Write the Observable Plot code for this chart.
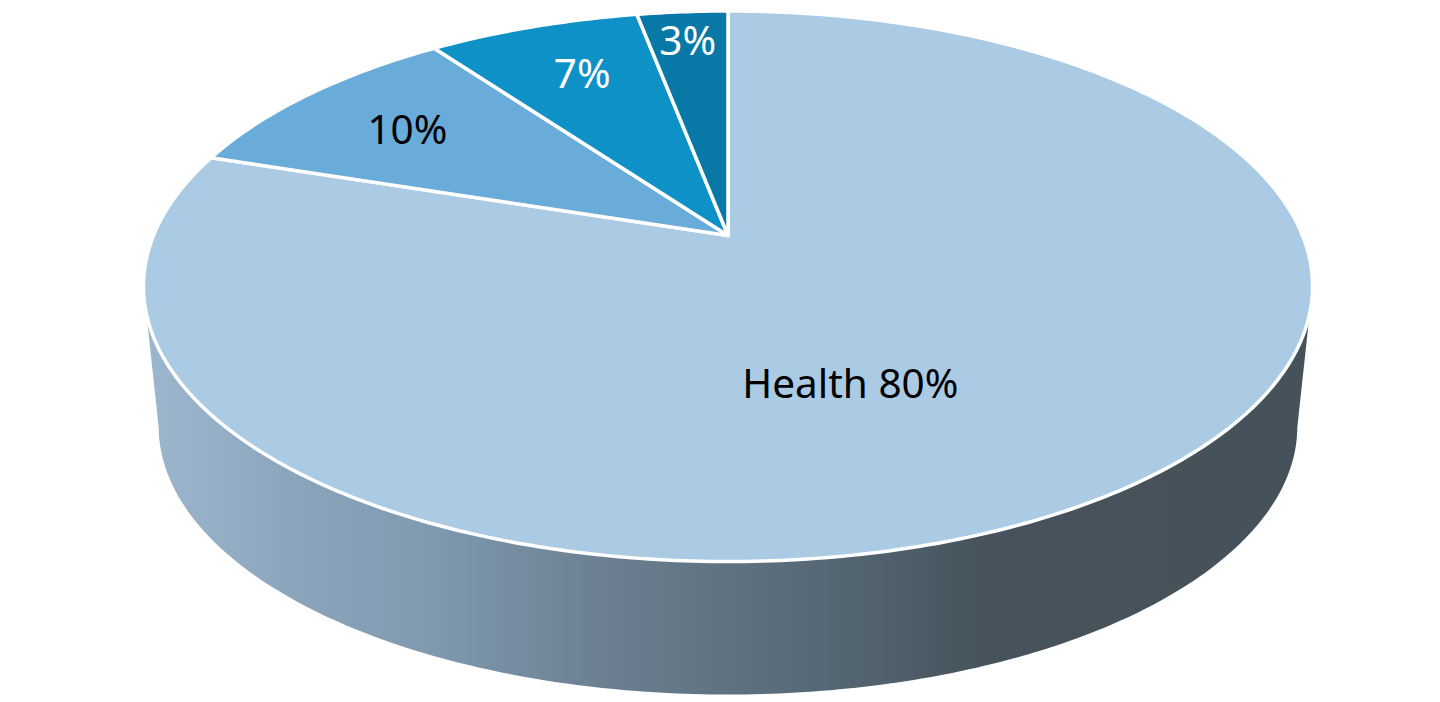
<!DOCTYPE html>
<html>
<head>
<meta charset="utf-8">
<script src="https://cdn.jsdelivr.net/npm/d3@7"></script>
<script src="https://cdn.jsdelivr.net/npm/@observablehq/plot@0.6"></script>
<style>
html,body{margin:0;padding:0;background:#fff;overflow:hidden}
svg{display:block}
</style>
</head>
<body>
<div id="chart"></div>
<script>
const categories = ["Health", "Segment B", "Segment C", "Segment D"];
const shares = [80, 10, 7, 3];
const labels = ["Health 80%", "10%", "7%", "3%"];
const sliceColors = ["#abcbe5", "#69acda", "#0e91c7", "#0878a6"];
const labelColors = ["#000000", "#000000", "#ffffff", "#ffffff"];
// Label anchors on the unit disc
const labelDiscX = [0.193, -0.602, -0.286, -0.081];
const labelDiscY = [-0.506, 0.428, 0.686, 0.849];
// Side wall shading, left to right
const wallStopOffsets = [0, 0.13, 0.245, 0.39, 0.565, 0.72, 1];
const wallStopColors = ["#9cb6ce", "#8aa5bb", "#7f99af", "#6c8092", "#586a78", "#46535c", "#45525a"];

// Perspective view of a tilted disc (output in SVG pixel space via Plot's x/y scales)
const view = {cx: 727.5, cy: 235, a: 574.5, b: 265.9, k: 0.1844};
const project = (X, Y, scale = 1, drop = 0) => {
  const d = 1 + view.k * Y;
  return {x: view.cx + scale * view.a * X / d, y: view.cy + drop - scale * view.b * Y / d};
};
const rim = (turn, scale, drop) => project(Math.sin(turn * 2 * Math.PI), Math.cos(turn * 2 * Math.PI), scale, drop);
const total = d3.sum(shares);
const arcStep = 0.002;

// Slices: walk the rim clockwise from twelve o'clock
let running = 0;
const slicePoints = categories.flatMap((category, i) => {
  const start = running / total;
  running += shares[i];
  const end = running / total;
  const n = Math.max(2, Math.ceil((end - start) / arcStep));
  const pts = [project(0, 0)];
  for (let j = 0; j <= n; ++j) pts.push(rim(start + (end - start) * j / n));
  pts.push(project(0, 0));
  return pts.map(p => ({...p, category}));
});

// Side wall: lower rim of the extruded disc joined to the upper rim
const wallScale = 0.974, wallDrop = 141.5;
const wallPoints = [];
for (let t = 0.28; t <= 0.72 + 1e-9; t += arcStep) wallPoints.push(rim(t, wallScale, wallDrop));
for (let t = 0.705; t >= 0.295 - 1e-9; t -= arcStep) wallPoints.push(rim(t));
wallPoints.push(wallPoints[0]);

const labelRows = labels.map((label, i) => ({
  label, color: labelColors[i], ...project(labelDiscX[i], labelDiscY[i])
}));

const gradientDefs = () => {
  const ns = "http://www.w3.org/2000/svg";
  const defs = document.createElementNS(ns, "defs");
  const g = document.createElementNS(ns, "linearGradient");
  g.setAttribute("id", "wallGradient");
  g.setAttribute("x1", "0"); g.setAttribute("x2", "1");
  g.setAttribute("y1", "0"); g.setAttribute("y2", "0");
  wallStopOffsets.forEach((o, i) => {
    const s = document.createElementNS(ns, "stop");
    s.setAttribute("offset", o);
    s.setAttribute("stop-color", wallStopColors[i]);
    g.appendChild(s);
  });
  defs.appendChild(g);
  return defs;
};

const chart = Plot.plot({
  width: 1440,
  height: 702,
  margin: 0,
  x: {domain: [0, 1440], range: [0, 1440], axis: null},
  y: {domain: [0, 702], range: [0, 702], axis: null},
  color: {domain: categories, range: sliceColors},
  style: {background: "#fff"},
  marks: [
    gradientDefs,
    Plot.line(wallPoints, {x: "x", y: "y", fill: "url(#wallGradient)", stroke: "none"}),
    Plot.line(slicePoints, {x: "x", y: "y", z: "category", fill: "category", stroke: "#fff", strokeWidth: 3.5, strokeLinejoin: "round"}),
    Plot.text(labelRows, {x: "x", y: "y", dy: 1.5, text: "label", fill: "color", fontSize: 40.5, fontFamily: "Noto Sans", textAnchor: "middle", lineAnchor: "middle"})
  ]
});
document.getElementById("chart").appendChild(chart);
</script>
</body>
</html>
